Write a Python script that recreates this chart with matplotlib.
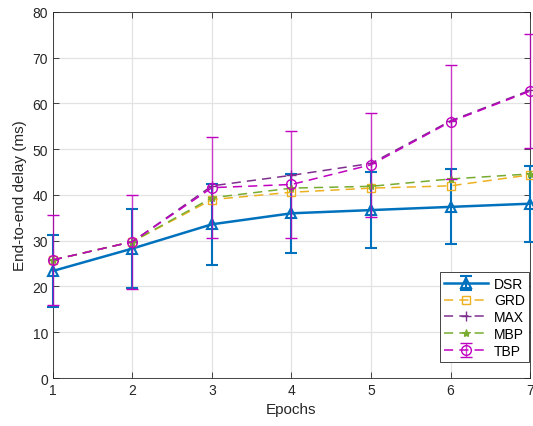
import numpy as np
import matplotlib
matplotlib.use('Agg')
import matplotlib.pyplot as plt

plt.rcParams['font.family'] = ['Liberation Sans', 'DejaVu Sans']

epochs = [1, 2, 3, 4, 5, 6, 7]

dsr = [23.4, 28.3, 33.6, 36.0, 36.7, 37.4, 38.1]
dsr_err = [7.8, 8.7, 8.8, 8.6, 8.3, 8.2, 8.3]
grd = [25.8, 29.8, 39.0, 40.6, 41.5, 42.0, 44.4]
maxv = [25.8, 29.8, 42.0, 44.3, 46.9, 56.2, 62.9]
mbp = [25.8, 29.8, 39.4, 41.5, 41.9, 43.5, 44.6]
tbp = [25.8, 29.8, 41.6, 42.3, 46.6, 56.0, 62.7]
tbp_err = [9.8, 10.3, 11.1, 11.6, 11.4, 12.5, 12.5]

c_dsr = '#0072BD'
c_grd = '#EDB120'
c_max = '#7E2F8E'
c_mbp = '#77AC30'
c_tbp = '#C000C0'

fig = plt.figure(figsize=(5.33, 4.27), dpi=100)
ax = fig.add_axes([0.0994, 0.1124, 0.895, 0.8572])

h_dsr = ax.errorbar(epochs, dsr, yerr=dsr_err, color=c_dsr, lw=1.8, marker='^', ms=7,
                    mfc='none', mew=1.5, capsize=4, capthick=1.5, elinewidth=1.5,
                    label='DSR', zorder=3)
h_grd, = ax.plot(epochs, grd, color=c_grd, ls='--', dashes=(6, 4), lw=1.1, marker='s', ms=6,
                 mfc='none', mew=1, label='GRD', zorder=4)
h_max, = ax.plot(epochs, maxv, color=c_max, ls='--', dashes=(6, 4), lw=1.1, marker='+', ms=7,
                 mew=1, label='MAX', zorder=4)
h_mbp, = ax.plot(epochs, mbp, color=c_mbp, ls='--', dashes=(6, 4), lw=1.1, marker='*', ms=6,
                 mew=0.8, label='MBP', zorder=4)
h_tbp = ax.errorbar(epochs, tbp, yerr=tbp_err, color=c_tbp, ls='--', dashes=(6, 4), lw=1.1,
                    marker='o', ms=7, mfc='none', mew=1, capsize=4, capthick=1,
                    elinewidth=1, label='TBP', zorder=5)
for part in h_tbp[2]:
    part.set_alpha(0.75)

# let markers and bars at x=1 and x=7 spill over the frame
for art in ax.lines + ax.collections:
    art.set_clip_on(False)

ax.set_xlim(1, 7)
ax.set_ylim(0, 80)
ax.set_xticks(epochs)
ax.set_yticks(np.arange(0, 81, 10))
ax.grid(True, color='#e3e3e3', lw=0.9)
ax.set_axisbelow(True)
ax.tick_params(direction='in', top=True, right=True, labelsize=10, length=4,
               width=0.6, colors='#262626')
for s in ax.spines.values():
    s.set_color('#262626')
    s.set_linewidth(0.6)

ax.set_xlabel('Epochs', fontsize=11, color='#262626')
ax.set_ylabel('End-to-end delay (ms)', fontsize=11, color='#262626')

leg = ax.legend([h_dsr, h_grd, h_max, h_mbp, h_tbp], ['DSR', 'GRD', 'MAX', 'MBP', 'TBP'],
                loc='lower right', bbox_to_anchor=(0.998, 0.044), fontsize=10,
                handlelength=3.2, handletextpad=0.4, borderpad=0.3, labelspacing=0.2,
                fancybox=False, framealpha=1, edgecolor='#262626', borderaxespad=0)
leg.get_frame().set_linewidth(0.6)
leg.set_zorder(10)

fig.savefig('out.png', dpi=100)
